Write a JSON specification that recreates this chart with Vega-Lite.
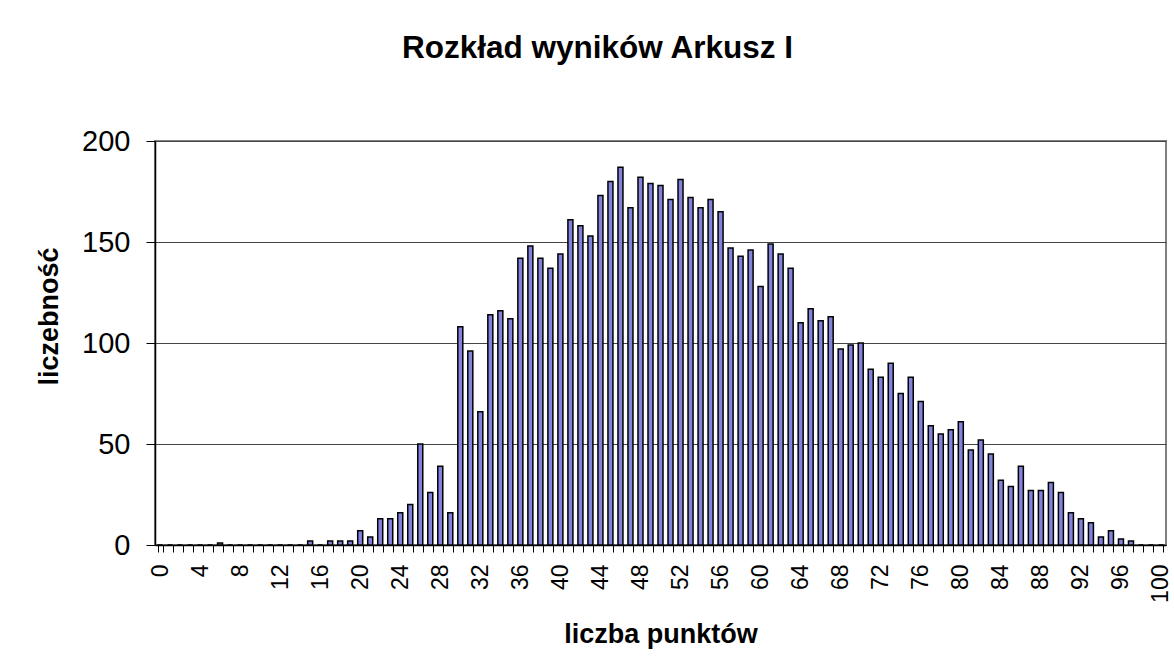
{
  "$schema": "https://vega.github.io/schema/vega-lite/v6.json",
  "width": 1011,
  "height": 404,
  "autosize": {"type": "none"},
  "padding": {"left": 155, "top": 141, "right": 8, "bottom": 125},
  "background": "white",
  "title": {
    "text": "Rozkład wyników Arkusz I",
    "font": "Liberation Sans",
    "fontSize": 31.5,
    "fontWeight": "bold",
    "color": "black",
    "frame": "group",
    "anchor": "middle",
    "baseline": "alphabetic",
    "offset": 38,
    "dx": -63
  },
  "config": {
    "font": "Liberation Sans",
    "view": {"stroke": "#808080", "strokeWidth": 2}
  },
  "data": {
    "values": [
      {"punkty": 0, "liczebnosc": 0}, {"punkty": 1, "liczebnosc": 0}, {"punkty": 2, "liczebnosc": 0},
      {"punkty": 3, "liczebnosc": 0}, {"punkty": 4, "liczebnosc": 0}, {"punkty": 5, "liczebnosc": 0},
      {"punkty": 6, "liczebnosc": 1}, {"punkty": 7, "liczebnosc": 0}, {"punkty": 8, "liczebnosc": 0},
      {"punkty": 9, "liczebnosc": 0}, {"punkty": 10, "liczebnosc": 0}, {"punkty": 11, "liczebnosc": 0},
      {"punkty": 12, "liczebnosc": 0}, {"punkty": 13, "liczebnosc": 0}, {"punkty": 14, "liczebnosc": 0},
      {"punkty": 15, "liczebnosc": 2}, {"punkty": 16, "liczebnosc": 0}, {"punkty": 17, "liczebnosc": 2},
      {"punkty": 18, "liczebnosc": 2}, {"punkty": 19, "liczebnosc": 2}, {"punkty": 20, "liczebnosc": 7},
      {"punkty": 21, "liczebnosc": 4}, {"punkty": 22, "liczebnosc": 13}, {"punkty": 23, "liczebnosc": 13},
      {"punkty": 24, "liczebnosc": 16}, {"punkty": 25, "liczebnosc": 20}, {"punkty": 26, "liczebnosc": 50},
      {"punkty": 27, "liczebnosc": 26}, {"punkty": 28, "liczebnosc": 39}, {"punkty": 29, "liczebnosc": 16},
      {"punkty": 30, "liczebnosc": 108}, {"punkty": 31, "liczebnosc": 96}, {"punkty": 32, "liczebnosc": 66},
      {"punkty": 33, "liczebnosc": 114}, {"punkty": 34, "liczebnosc": 116}, {"punkty": 35, "liczebnosc": 112},
      {"punkty": 36, "liczebnosc": 142}, {"punkty": 37, "liczebnosc": 148}, {"punkty": 38, "liczebnosc": 142},
      {"punkty": 39, "liczebnosc": 137}, {"punkty": 40, "liczebnosc": 144}, {"punkty": 41, "liczebnosc": 161},
      {"punkty": 42, "liczebnosc": 158}, {"punkty": 43, "liczebnosc": 153}, {"punkty": 44, "liczebnosc": 173},
      {"punkty": 45, "liczebnosc": 180}, {"punkty": 46, "liczebnosc": 187}, {"punkty": 47, "liczebnosc": 167},
      {"punkty": 48, "liczebnosc": 182}, {"punkty": 49, "liczebnosc": 179}, {"punkty": 50, "liczebnosc": 178},
      {"punkty": 51, "liczebnosc": 171}, {"punkty": 52, "liczebnosc": 181}, {"punkty": 53, "liczebnosc": 172},
      {"punkty": 54, "liczebnosc": 167}, {"punkty": 55, "liczebnosc": 171}, {"punkty": 56, "liczebnosc": 165},
      {"punkty": 57, "liczebnosc": 147}, {"punkty": 58, "liczebnosc": 143}, {"punkty": 59, "liczebnosc": 146},
      {"punkty": 60, "liczebnosc": 128}, {"punkty": 61, "liczebnosc": 149}, {"punkty": 62, "liczebnosc": 144},
      {"punkty": 63, "liczebnosc": 137}, {"punkty": 64, "liczebnosc": 110}, {"punkty": 65, "liczebnosc": 117},
      {"punkty": 66, "liczebnosc": 111}, {"punkty": 67, "liczebnosc": 113}, {"punkty": 68, "liczebnosc": 97},
      {"punkty": 69, "liczebnosc": 99}, {"punkty": 70, "liczebnosc": 100}, {"punkty": 71, "liczebnosc": 87},
      {"punkty": 72, "liczebnosc": 83}, {"punkty": 73, "liczebnosc": 90}, {"punkty": 74, "liczebnosc": 75},
      {"punkty": 75, "liczebnosc": 83}, {"punkty": 76, "liczebnosc": 71}, {"punkty": 77, "liczebnosc": 59},
      {"punkty": 78, "liczebnosc": 55}, {"punkty": 79, "liczebnosc": 57}, {"punkty": 80, "liczebnosc": 61},
      {"punkty": 81, "liczebnosc": 47}, {"punkty": 82, "liczebnosc": 52}, {"punkty": 83, "liczebnosc": 45},
      {"punkty": 84, "liczebnosc": 32}, {"punkty": 85, "liczebnosc": 29}, {"punkty": 86, "liczebnosc": 39},
      {"punkty": 87, "liczebnosc": 27}, {"punkty": 88, "liczebnosc": 27}, {"punkty": 89, "liczebnosc": 31},
      {"punkty": 90, "liczebnosc": 26}, {"punkty": 91, "liczebnosc": 16}, {"punkty": 92, "liczebnosc": 13},
      {"punkty": 93, "liczebnosc": 11}, {"punkty": 94, "liczebnosc": 4}, {"punkty": 95, "liczebnosc": 7},
      {"punkty": 96, "liczebnosc": 3}, {"punkty": 97, "liczebnosc": 2}, {"punkty": 98, "liczebnosc": 0},
      {"punkty": 99, "liczebnosc": 0}, {"punkty": 100, "liczebnosc": 0}
    ]
  },
  "mark": {
    "type": "bar",
    "fill": "#8282dc",
    "stroke": "black",
    "strokeWidth": 1.5,
    "cornerRadius": 0
  },
  "encoding": {
    "x": {
      "field": "punkty",
      "type": "ordinal",
      "sort": "ascending",
      "scale": {"paddingInner": 0.5, "paddingOuter": 0.25},
      "axis": {
        "title": "liczba punktów",
        "titleFont": "Liberation Sans",
        "titleFontSize": 27,
        "titleFontWeight": "bold",
        "titleColor": "black",
        "titleBaseline": "alphabetic",
        "titleY": 97,
        "labelExpr": "datum.value % 4 === 0 ? datum.label : ''",
        "labelOverlap": false,
        "labelAngle": 270,
        "labelFontSize": 23,
        "labelColor": "black",
        "labelPadding": 12,
        "tickBand": "extent",
        "tickSize": 7,
        "tickColor": "black",
        "domainColor": "black",
        "domainWidth": 1.5,
        "grid": false
      }
    },
    "y": {
      "field": "liczebnosc",
      "type": "quantitative",
      "scale": {"domain": [0, 200], "nice": false},
      "axis": {
        "title": "liczebność",
        "titleFont": "Liberation Sans",
        "titleFontSize": 27,
        "titleFontWeight": "bold",
        "titleColor": "black",
        "titleBaseline": "alphabetic",
        "titleAngle": 270,
        "titleX": -98,
        "titleY": 175,
        "values": [0, 50, 100, 150, 200],
        "labelFontSize": 29,
        "labelColor": "black",
        "labelPadding": 16,
        "tickSize": 9,
        "tickColor": "black",
        "domainColor": "black",
        "domainWidth": 1.5,
        "grid": true,
        "gridColor": "#444444",
        "gridWidth": 1
      }
    }
  }
}
